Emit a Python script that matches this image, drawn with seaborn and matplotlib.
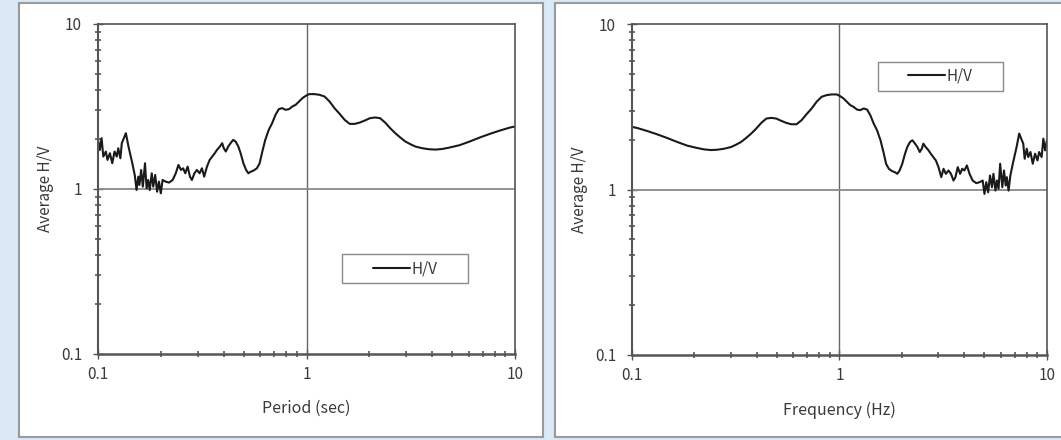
import numpy as np
import pandas as pd
import matplotlib
matplotlib.use('Agg')
import matplotlib.pyplot as plt
import seaborn as sns
from matplotlib.patches import Rectangle
from matplotlib.ticker import LogLocator, NullFormatter, FixedFormatter, FixedLocator

# 周期 (sec) と平均 H/V スペクトル比
period_sec = [0.100, 0.102, 0.104, 0.106, 0.109, 0.111, 0.114, 0.117, 0.120, 0.123,
              0.125, 0.128, 0.130, 0.134, 0.136, 0.140, 0.146, 0.150, 0.153, 0.156,
              0.158, 0.161, 0.164, 0.168, 0.171, 0.174, 0.177, 0.181, 0.184, 0.188,
              0.192, 0.196, 0.200, 0.204, 0.211, 0.219, 0.228, 0.236, 0.243, 0.250,
              0.256, 0.262, 0.269, 0.276, 0.282, 0.290, 0.298, 0.307, 0.315, 0.323,
              0.333, 0.343, 0.353, 0.363, 0.372, 0.384, 0.394, 0.401, 0.410, 0.421,
              0.432, 0.445, 0.457, 0.471, 0.483, 0.498, 0.513, 0.526, 0.541, 0.557,
              0.578, 0.596, 0.611, 0.634, 0.659, 0.684, 0.710, 0.736, 0.764, 0.794,
              0.824, 0.855, 0.887, 0.921, 0.956, 0.993, 1.030, 1.090, 1.152, 1.219,
              1.289, 1.362, 1.441, 1.524, 1.611, 1.705, 1.802, 1.905, 2.015, 2.130,
              2.253, 2.382, 2.520, 2.665, 2.818, 2.980, 3.152, 3.333, 3.592, 3.872,
              4.171, 4.496, 4.842, 5.416, 6.058, 6.773, 7.574, 8.472, 9.475, 10.0]
hv_ratio = [1.985, 1.725, 2.031, 1.572, 1.686, 1.500, 1.647, 1.432, 1.686, 1.572,
            1.766, 1.535, 1.894, 2.079, 2.178, 1.807, 1.432, 1.216, 0.986, 1.188,
            1.058, 1.304, 1.033, 1.432, 1.009, 1.134, 0.986, 1.245, 1.033, 1.216,
            0.963, 1.108, 0.941, 1.134, 1.108, 1.093, 1.134, 1.245, 1.399, 1.304,
            1.335, 1.245, 1.366, 1.188, 1.134, 1.245, 1.304, 1.245, 1.335, 1.188,
            1.366, 1.500, 1.572, 1.647, 1.725, 1.807, 1.894, 1.766, 1.686, 1.807,
            1.894, 1.985, 1.939, 1.807, 1.647, 1.432, 1.304, 1.245, 1.274, 1.292,
            1.335, 1.432, 1.647, 1.985, 2.282, 2.505, 2.815, 3.046, 3.090, 3.019,
            3.046, 3.162, 3.237, 3.392, 3.553, 3.672, 3.758, 3.758, 3.723, 3.637,
            3.392, 3.090, 2.854, 2.624, 2.481, 2.481, 2.528, 2.600, 2.686, 2.712,
            2.686, 2.528, 2.336, 2.178, 2.050, 1.939, 1.867, 1.807, 1.766, 1.741,
            1.733, 1.749, 1.782, 1.842, 1.939, 2.050, 2.158, 2.261, 2.358, 2.391]

tick_vals = [0.1, 1, 10]
tick_labels = ['0.1', '1', '10']

df = pd.DataFrame({'period': period_sec, 'hv': hv_ratio})
df['freq'] = 1.0 / df['period']

sns.set_style('white')
plt.rcParams['font.family'] = ['Noto Sans CJK JP', 'DejaVu Sans']

fig = plt.figure(figsize=(10.61, 4.40), dpi=100)
fig.patch.set_facecolor('#dbe8f5')

# 白いパネル
for x0, w in [(0.0179, 0.4939), (0.523, 0.49)]:
    fig.patches.append(Rectangle((x0, 0.0068), w, 0.9864, transform=fig.transFigure,
                                 facecolor='white', edgecolor='#9a9a9a', lw=1.5, zorder=-10))

ax1 = fig.add_axes([0.0924, 0.1955, 0.393, 0.75])
ax2 = fig.add_axes([0.5957, 0.1932, 0.391, 0.752])

txt_col = '#3a3a3a'
panels = [(ax1, 'period', 'Period (sec)', (0.736, 0.259)),
          (ax2, 'freq', 'Frequency (Hz)', (0.743, 0.843))]

for ax, xcol, xlabel, leg_c in panels:
    ax.set_facecolor('white')
    sns.lineplot(data=df, x=xcol, y='hv', ax=ax, color='#1a1a1a', lw=1.5,
                 sort=True, estimator=None, label='H/V', legend=False)
    ax.set_xscale('log')
    ax.set_yscale('log')
    ax.set_xlim(0.1, 10)
    ax.set_ylim(0.1, 10)
    ax.axvline(1, color='#666666', lw=1.0, zorder=1)
    ax.axhline(1, color='#8a8a8a', lw=1.3, zorder=1)
    for a in (ax.xaxis, ax.yaxis):
        a.set_major_locator(FixedLocator(tick_vals))
        a.set_major_formatter(FixedFormatter(tick_labels))
        a.set_minor_locator(LogLocator(base=10, subs=np.arange(2, 10)))
        a.set_minor_formatter(NullFormatter())
    ax.tick_params(which='both', bottom=True, left=True)
    ax.tick_params(which='major', direction='inout', length=7, width=1,
                   color='#555555', labelsize=11, labelcolor=txt_col)
    ax.tick_params(axis='x', which='major', pad=5)
    ax.tick_params(axis='y', which='major', pad=8)
    ax.tick_params(which='minor', direction='inout', length=4, width=1.2, color='#555555')
    for s in ax.spines.values():
        s.set_color('#555555')
        s.set_linewidth(1.2)
    ax.spines['bottom'].set_linewidth(1.8)
    ax.spines['left'].set_linewidth(1.5)
    ax.set_xlabel(xlabel, fontsize=11.5, color=txt_col)
    ax.set_ylabel('Average H/V', fontsize=11, color=txt_col)
    ax.xaxis.set_label_coords(0.5, -0.14)
    ax.yaxis.set_label_coords(-0.105, 0.5)
    # 凡例の枠
    ax.add_patch(Rectangle((leg_c[0] - 0.151, leg_c[1] - 0.044), 0.302, 0.088,
                           transform=ax.transAxes, facecolor='white',
                           edgecolor='#8a8a8a', lw=1.0, zorder=3))
    leg = ax.legend(loc='center', bbox_to_anchor=leg_c, frameon=False,
                    fontsize=11, handlelength=2.4, handletextpad=0.1)
    leg.set_zorder(4)
    for t in leg.get_texts():
        t.set_color(txt_col)

fig.savefig('out.png', dpi=100, facecolor=fig.get_facecolor())
